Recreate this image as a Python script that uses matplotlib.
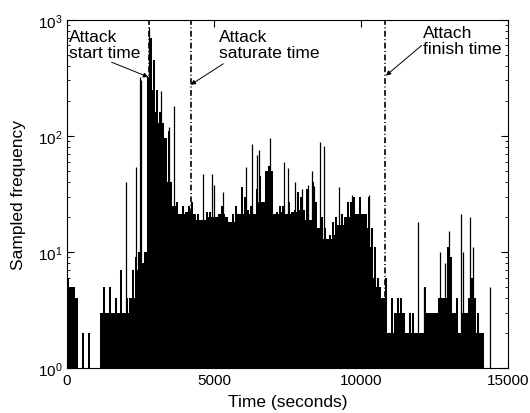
import numpy as np
import matplotlib.pyplot as plt

plt.rcParams['font.family'] = ['Liberation Sans', 'DejaVu Sans']
plt.rcParams['mathtext.default'] = 'regular'

# sampled frequency, 100 s bins starting at t = 0
bin_width = 100
body = [6, 5, 5, 4, 1, 2, 1, 2, 1, 1, 1, 3, 5, 3, 5, 3, 4, 3, 7, 3,
        4, 4, 7, 9, 10, 8, 10, 320, 700, 450, 250, 160, 130, 95, 110, 40, 25, 27, 21, 25,
        22, 25, 27, 21, 21, 19, 19, 22, 22, 20, 20, 21, 25, 21, 20, 18, 21, 25, 21, 36,
        30, 23, 25, 21, 35, 45, 27, 50, 55, 50, 21, 22, 25, 25, 21, 27, 22, 23, 33, 30,
        23, 35, 19, 40, 27, 16, 20, 16, 13, 14, 18, 20, 17, 21, 20, 27, 27, 30, 21, 30,
        21, 21, 30, 16, 11, 6, 5, 4, 6, 2, 4, 3, 4, 4, 3, 2, 3, 3, 2, 2,
        2, 5, 3, 3, 3, 3, 4, 4, 4, 11, 9, 3, 4, 2, 3, 3, 4, 6, 4, 3,
        2, 2, 1]

# isolated narrow spikes: time (s), count
spike_t = [2020, 2340, 2470, 2520, 2780, 3180, 3480, 3650, 4620, 4925, 5000, 5310,
           6090, 6300, 6460, 6520, 6896, 7390, 7500, 7745, 7970, 8175, 8310, 8400,
           8600, 8740, 9250, 9700, 10270, 11935, 12140, 12660, 12830, 12976,
           13390, 13440, 13690, 13780, 14370]
spike_v = [40, 54, 320, 300, 870, 245, 120, 180, 47, 47, 38, 33,
           54, 85, 68, 75, 96, 60, 53, 40, 35, 38, 50, 37,
           89, 81, 36, 31, 31, 18, 5, 10, 8, 15,
           21, 10, 20, 11, 5]

# event markers
events = [2800, 4200, 10800]
ev_text = ['Attack\nstart time', 'Attack\nsaturate time', 'Attach\nfinish time']
ev_text_xy = [(80, 830), (5180, 830), (12100, 900)]
ev_tail = [(1518, 430), (5310, 417), (12049, 600)]
ev_head = [(2762, 321), (4202, 275), (10836, 330)]

fig = plt.figure(figsize=(5.3, 4.14), dpi=100)
ax = fig.add_axes([0.1264, 0.1087, 0.833, 0.8413])

body = np.array(body)
edges = np.arange(len(body) + 1) * bin_width
centers = edges[:-1] + bin_width / 2

# solid part: lowest level among neighbouring bins
pad = np.pad(body, 1, mode='edge')
floor = np.min([pad[i:i + len(body)] for i in range(3)], axis=0)
ax.stairs(floor, edges, fill=True, baseline=1, color='k', lw=0)
ax.vlines(centers, 1, body, color='k', lw=1.45)
ax.vlines(spike_t, 1, spike_v, color='k', lw=0.9)

for t in events:
    ax.axvline(t, color='k', lw=1.2, dashes=(3.5, 1.5, 0.6, 1.5))

for txt, xy, tail, head in zip(ev_text, ev_text_xy, ev_tail, ev_head):
    ax.text(xy[0], xy[1], txt, ha='left', va='top', fontsize=12.5, linespacing=1.05)
    ax.annotate('', xy=head, xytext=tail,
                arrowprops=dict(arrowstyle='-|>', color='k', lw=0.7,
                                mutation_scale=7, shrinkA=0, shrinkB=0))

ax.set_yscale('log')
ax.set_xlim(0, 15000)
ax.set_ylim(1, 1000)
ax.set_xticks([0, 5000, 10000, 15000])
ax.set_yticks([1, 10, 100, 1000])
ax.set_yticklabels(['$10^0$', '$10^1$', '$10^2$', '$10^3$'])
ax.tick_params(which='both', direction='in', top=True, right=True, labelsize=11)
ax.tick_params(which='major', length=5)
ax.tick_params(which='minor', length=2.5)
for s in ax.spines.values():
    s.set_linewidth(0.8)
ax.set_xlabel('Time (seconds)', fontsize=12.5, labelpad=5)
ax.set_ylabel('Sampled frequency', fontsize=12.5, labelpad=8)

fig.savefig('out.png', dpi=100)
